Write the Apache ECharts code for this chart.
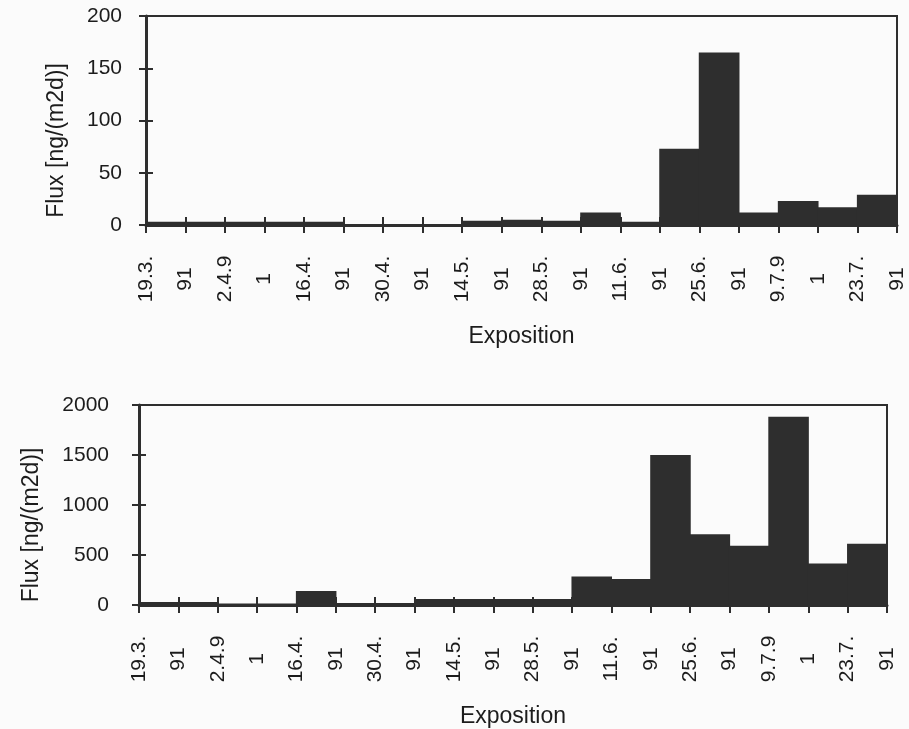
<!DOCTYPE html>
<html>
<head>
<meta charset="utf-8">
<script src="https://cdn.jsdelivr.net/npm/echarts@6/dist/echarts.min.js"></script>
<style>
  html, body { margin: 0; padding: 0; background: #fbfbfb; }
  #chart { width: 909px; height: 729px; }
</style>
</head>
<body>
<div id="chart"></div>
<script>
  // Striche der x-Achse: das Datum steht jeweils ueber zwei Striche verteilt
  var tickLabels = ['19.3.', '91', '2.4.9', '1', '16.4.', '91', '30.4.', '91', '14.5.', '91',
                    '28.5.', '91', '11.6.', '91', '25.6.', '91', '9.7.9', '1', '23.7.', '91'];
  // Expositionsintervalle zwischen zwei Strichen (19 Balken)
  var periods = ['I1', 'I2', 'I3', 'I4', 'I5', 'I6', 'I7', 'I8', 'I9', 'I10',
                 'I11', 'I12', 'I13', 'I14', 'I15', 'I16', 'I17', 'I18', 'I19'];
  // oberes Diagramm, Flux [ng/(m2d)]
  var fluxTop = [3, 3, 3, 3, 3, 1, 1, 1, 4, 5, 4, 12, 3, 73, 165, 12, 23, 17, 29];
  // unteres Diagramm, Flux [ng/(m2d)]
  var fluxBottom = [30, 30, 15, 15, 140, 20, 20, 60, 60, 60, 60, 285, 260, 1500, 707, 593, 1883, 415, 612];

  var ink = '#2e2e2e';
  var textColor = '#1c1c1c';
  var font = 'Liberation Sans, Arial, sans-serif';

  // Achsen fuer ein Diagramm (Striche kreuzen die Achse, daher je zwei Achsen)
  function xAxes (g) {
    return [
      {
        gridIndex: g, type: 'category', data: tickLabels, boundaryGap: false, position: 'bottom',
        axisLine: { lineStyle: { color: ink, width: 3 } },
        axisTick: { length: 8, lineStyle: { color: ink, width: 2 } },
        axisLabel: { interval: 0, rotate: 90, align: 'center', margin: 54,
                     fontSize: 21, color: textColor, fontFamily: font },
        splitLine: { show: false },
        name: 'Exposition', nameLocation: 'middle', nameGap: 100,
        nameTextStyle: { fontSize: 23, color: textColor, fontFamily: font }
      },
      {
        gridIndex: g, type: 'category', data: tickLabels, boundaryGap: false, position: 'bottom',
        axisLine: { show: false },
        axisTick: { inside: true, length: 8, lineStyle: { color: ink, width: 2 } },
        axisLabel: { show: false }, splitLine: { show: false }
      },
      { gridIndex: g, type: 'category', data: periods, position: 'bottom', show: false }
    ]
  }

  function yAxes (g, max, step, labelGap, nameGap) {
    return [
      {
        gridIndex: g, type: 'value', min: 0, max: max, interval: step, position: 'left',
        axisLine: { show: true, lineStyle: { color: ink, width: 3 } },
        axisTick: { show: true, length: 7, lineStyle: { color: ink, width: 2 } },
        axisLabel: { margin: labelGap, fontSize: 21, color: textColor, fontFamily: font,
                     formatter: function (v) { return String(v) } },
        splitLine: { show: false },
        name: 'Flux [ng/(m2d)]', nameLocation: 'middle', nameGap: nameGap,
        nameTextStyle: { fontSize: 23, color: textColor, fontFamily: font, padding: [0, 40, 0, 0] }
      },
      {
        gridIndex: g, type: 'value', min: 0, max: max, interval: step, position: 'left',
        axisLine: { show: false },
        axisTick: { show: true, inside: true, length: 7, lineStyle: { color: ink, width: 2 } },
        axisLabel: { show: false }, splitLine: { show: false }
      }
    ]
  }

  var chart = echarts.init(document.getElementById('chart'));
  var option = {
    backgroundColor: '#fbfbfb',
    animation: false,
    grid: [
      { left: 146, top: 16, width: 751, height: 209, outerBoundsMode: 'none',
        show: true, borderColor: ink, borderWidth: 2 },
      { left: 139, top: 405, width: 748, height: 200, outerBoundsMode: 'none',
        show: true, borderColor: ink, borderWidth: 2 }
    ],
    xAxis: xAxes(0).concat(xAxes(1)),
    yAxis: yAxes(0, 200, 50, 24, 78).concat(yAxes(1, 2000, 500, 30, 96)),
    series: [
      {
        // Balken leicht ueberlappend, damit keine hellen Fugen entstehen
        type: 'bar', data: fluxTop, xAxisIndex: 2, yAxisIndex: 0, barWidth: '103%',
        itemStyle: { color: ink }
      },
      {
        type: 'bar', data: fluxBottom, xAxisIndex: 5, yAxisIndex: 2, barWidth: '103%',
        itemStyle: { color: ink }
      }
    ]
  };
  chart.setOption(option);
</script>
</body>
</html>
